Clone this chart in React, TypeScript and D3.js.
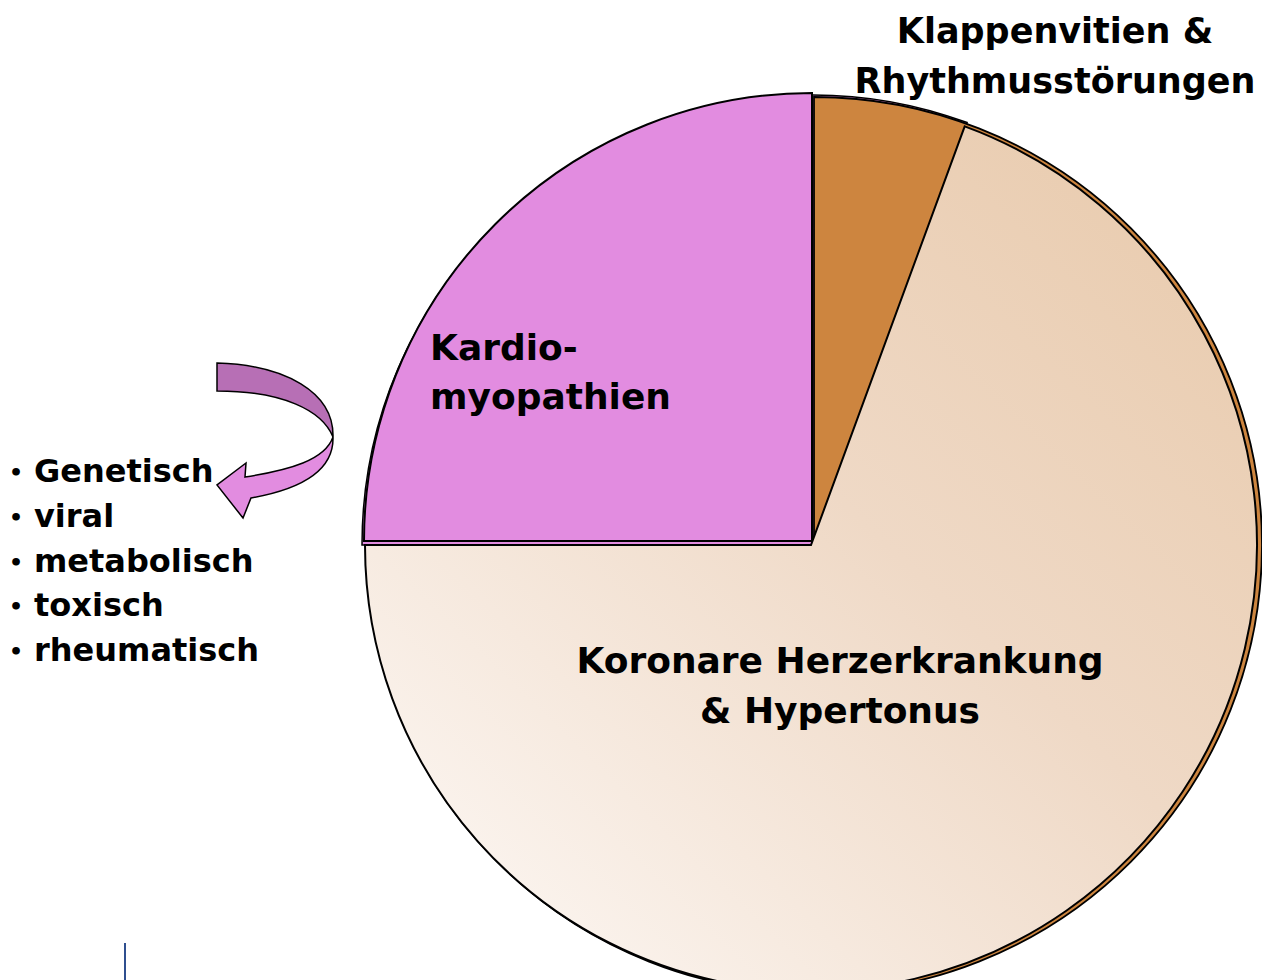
import React from 'react';
import * as d3 from 'd3';

// Anteile der Ursachen (geschätzt, im Uhrzeigersinn ab 12 Uhr)
const categories = ['Klappenvitien & Rhythmusstörungen', 'Koronare Herzerkrankung & Hypertonus', 'Kardiomyopathien'];
const values = [5.6, 69.4, 25];
const colors = ['#CD853F', 'url(#beige)', '#E28CE0'];
const causes = ['Genetisch', 'viral', 'metabolisch', 'toxisch', 'rheumatisch'];

const W = 1262;
const H = 980;
const cx = 812;
const cy = 545;
const R = 450;
const FONT = "'DejaVu Sans', Verdana, sans-serif";

const App = () => {
  const pie = d3.pie<number>().sort(null).value(d => d)(values);
  const [klappen, koronar, kardio] = pie;

  const arc = d3.arc<any>().innerRadius(0);

  // Hintergrund: rosa Rand oben, oranger Rand rechts (Schatten-Effekt wie im Original)
  const pinkBack = arc({ startAngle: kardio.startAngle, endAngle: 2 * Math.PI + klappen.endAngle, outerRadius: R } as any);
  const orangeBase = arc({ startAngle: klappen.startAngle, endAngle: koronar.endAngle, outerRadius: R - 2 } as any);
  const beige = arc({ startAngle: koronar.startAngle, endAngle: koronar.endAngle, outerRadius: R - 4 } as any);
  const pinkFront = arc({ startAngle: kardio.startAngle, endAngle: kardio.endAngle, outerRadius: R - 2 } as any);

  const bulletY = d3.scalePoint<string>().domain(causes).range([482, 661]);

  return (
    <svg width={W} height={H} style={{ position: 'absolute', left: 0, top: 0, background: '#fff' }}
      fontFamily={FONT} fontWeight="bold">
      <defs>
        <linearGradient id="beige" x1="1" y1="0" x2="0" y2="1">
          <stop offset="0%" stopColor="#E8C9AA" />
          <stop offset="45%" stopColor="#EFD9C6" />
          <stop offset="100%" stopColor="#FEFBF9" />
        </linearGradient>
      </defs>

      <g>
        <path d={pinkBack!} transform={`translate(${cx},${cy})`} fill="#E28CE0" stroke="#000" strokeWidth={1.5} />
        <path d={orangeBase!} transform={`translate(${cx + 2},${cy})`} fill={colors[0]} stroke="#000" strokeWidth={1.8} />
        <path d={beige!} transform={`translate(${cx - 1},${cy})`} fill={colors[1]} stroke="#000" strokeWidth={2} />
        <path d={pinkFront!} transform={`translate(${cx},${cy - 4})`} fill={colors[2]} stroke="#000" strokeWidth={2} />
      </g>

      {/* Beschriftungen */}
      <text x={1055} y={43} textAnchor="middle" fontSize={35}>Klappenvitien &amp;</text>
      <text x={1055} y={93} textAnchor="middle" fontSize={35}>Rhythmusstörungen</text>

      <text x={430} y={360} fontSize={36}>Kardio-</text>
      <text x={430} y={409} fontSize={36}>myopathien</text>

      <text x={840} y={673} textAnchor="middle" fontSize={36}>Koronare Herzerkrankung</text>
      <text x={840} y={723} textAnchor="middle" fontSize={36}>&amp; Hypertonus</text>

      {/* gebogener Pfeil */}
      <path d="M217,363 C285,365 334,392 333,437 C322,410 282,391 217,391 Z"
        fill="#B76FB5" stroke="#000" strokeWidth={1.5} />
      <path d="M333,437 C334,470 302,489 251,498 L243,518 L217,485 L246,463 L245,477 C290,470 325,460 333,437 Z"
        fill="#E28CE0" stroke="#000" strokeWidth={1.5} />

      {causes.map(c => (
        <g key={c}>
          <text x={9} y={(bulletY(c) ?? 0) - 2} fontSize={22}>•</text>
          <text x={34} y={bulletY(c)} fontSize={32}>{c}</text>
        </g>
      ))}

      <line x1={125} x2={125} y1={943} y2={980} stroke="#2F4F8F" strokeWidth={2} />
    </svg>
  );
};

export default App;
